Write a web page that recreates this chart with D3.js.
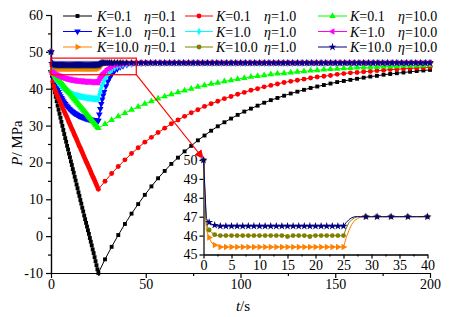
<!DOCTYPE html>
<html>
<head>
<meta charset="utf-8">
<script src="https://cdn.jsdelivr.net/npm/d3@7"></script>
<style>
  body { margin: 0; background: #fff; }
  svg { display: block; font-family: "Liberation Serif", "Times New Roman", serif; }
</style>
</head>
<body>
<svg width="450" height="317"></svg>
<script>

// time grids (s)
const tDown = d3.range(0, 25.001, 0.5);
const tUpSlow = d3.range(28.5, 200.001, 3.5);
const tUpFast = [25.5, 26, 26.5, 27, 27.5, 28, 29, 30, 31, 32, 33.5, 35, 36.5, 38, 40, 42.5, 45, 47.5, 50]
                  .concat(d3.range(52.5, 200.001, 2.5));

const xTicks = [0, 50, 100, 150, 200];
const yTicks = [-10, 0, 10, 20, 30, 40, 50, 60];
const insetXTicks = [0, 5, 10, 15, 20, 25, 30, 35, 40];
const insetYTicks = [45, 46, 47, 48, 49, 50];

// pressure (MPa) during drawdown, t = 0 .. 25
const blackDown = [50, 43.5, 41.5, 40.2, 39.0, 37.8, 36.6, 35.4, 34.3, 33.2, 32.1, 31.0, 29.9, 28.8, 27.7, 26.6,
  25.6, 24.5, 23.5, 22.4, 21.4, 20.3, 19.3, 18.2, 17.2, 16.1, 15.1, 14.0, 13.0, 11.9, 10.9, 9.8, 8.8, 7.7, 6.7,
  5.6, 4.6, 3.6, 2.6, 1.6, 0.6, -0.5, -1.5, -2.5, -3.6, -4.6, -5.7, -6.8, -7.9, -9.0, -10];
const redDown = [50, 44.0, 42.0, 40.7, 39.7, 39.1, 38.5, 37.9, 37.35, 36.8, 36.2, 35.6, 35.0, 34.4, 33.8, 33.2,
  32.7, 32.1, 31.5, 30.9, 30.3, 29.7, 29.1, 28.6, 28.0, 27.4, 26.8, 26.2, 25.6, 25.0, 24.4, 23.9, 23.3, 22.7,
  22.1, 21.5, 20.9, 20.3, 19.8, 19.2, 18.6, 18.0, 17.4, 16.8, 16.2, 15.7, 15.1, 14.5, 13.9, 13.3, 12.7];
const greenDown = [50, 45.2, 44.3, 44.0, 43.7, 43.4, 43.05, 42.7, 42.4, 42.1, 41.8, 41.5, 41.2, 40.9, 40.55,
  40.2, 39.9, 39.6, 39.3, 39.0, 38.7, 38.4, 38.05, 37.7, 37.4, 37.1, 36.8, 36.5, 36.2, 35.9, 35.55, 35.2, 34.9,
  34.6, 34.3, 34.0, 33.7, 33.4, 33.05, 32.7, 32.4, 32.1, 31.8, 31.5, 31.2, 30.9, 30.55, 30.2, 29.9, 29.6, 29.3];
const blueDown = [50, 44.4, 43.5, 42.6, 41.8, 41.0, 40.3, 39.7, 39.1, 38.5, 38.0, 37.5, 37.1, 36.6, 36.2, 35.9,
  35.5, 35.2, 34.9, 34.6, 34.4, 34.1, 33.9, 33.7, 33.5, 33.3, 33.2, 33.0, 32.9, 32.7, 32.6, 32.5, 32.4, 32.3,
  32.2, 32.1, 32.0, 31.9, 31.9, 31.8, 31.7, 31.7, 31.6, 31.6, 31.5, 31.5, 31.4, 31.4, 31.4, 31.3, 31.3];
const cyanDown = [50, 44.4, 43.9, 43.5, 43.0, 42.6, 42.2, 41.9, 41.5, 41.2, 40.9, 40.6, 40.4, 40.2, 39.9, 39.7,
  39.6, 39.4, 39.2, 39.1, 38.9, 38.8, 38.7, 38.5, 38.4, 38.3, 38.2, 38.2, 38.1, 38.0, 37.9, 37.9, 37.8, 37.8,
  37.7, 37.7, 37.6, 37.6, 37.5, 37.5, 37.5, 37.4, 37.4, 37.4, 37.3, 37.3, 37.3, 37.3, 37.3, 37.2, 37.2];
const magentaDown = [50, 44.5, 44.3, 44.1, 44.0, 43.8, 43.7, 43.5, 43.4, 43.3, 43.2, 43.1, 43.0, 42.9, 42.8,
  42.7, 42.7, 42.6, 42.5, 42.5, 42.4, 42.4, 42.3, 42.3, 42.2, 42.2, 42.2, 42.1, 42.1, 42.1, 42.1, 42.0, 42.0,
  42.0, 42.0, 41.9, 41.9, 41.9, 41.9, 41.9, 41.9, 41.9, 41.8, 41.8, 41.8, 41.8, 41.8, 41.8, 41.8, 41.8, 41.8];
const navyDown = [50, 46.9, 46.7, 46.6, 46.55,
  46.5, 46.5, 46.5, 46.5, 46.5, 46.5, 46.5, 46.5, 46.5, 46.5,
  46.5, 46.5, 46.5, 46.5, 46.5, 46.5, 46.5, 46.5, 46.5, 46.5,
  46.5, 46.5, 46.5, 46.5, 46.5, 46.5, 46.5, 46.5, 46.5, 46.5,
  46.5, 46.5, 46.5, 46.5, 46.5, 46.5, 46.5, 46.5, 46.5, 46.5,
  46.5, 46.5, 46.5, 46.5, 46.5, 46.5];
const oliveDown = [50, 46.6, 46.3, 46.15, 46.05,
  46.0, 46.0, 46.0, 46.0, 46.0, 46.0, 46.0, 46.0, 46.0, 46.0,
  46.0, 46.0, 46.0, 46.0, 46.0, 46.0, 46.0, 46.0, 46.0, 46.0,
  46.0, 46.0, 46.0, 46.0, 46.0, 45.95, 45.95, 46.0, 46.0, 46.0,
  46.0, 46.0, 46.0, 45.95, 46.0, 46.0, 46.0, 46.0, 46.0, 46.0,
  46.0, 46.0, 46.0, 46.0, 46.0, 46.0];
const orangeDown = [50, 46.3, 45.9, 45.6, 45.5, 45.45,
  45.4, 45.4, 45.4, 45.4, 45.4, 45.4, 45.4, 45.4, 45.4,
  45.4, 45.4, 45.4, 45.4, 45.4, 45.4, 45.4, 45.4, 45.4, 45.4,
  45.4, 45.4, 45.4, 45.4, 45.4, 45.4, 45.4, 45.4, 45.4, 45.4,
  45.4, 45.4, 45.4, 45.4, 45.4, 45.4, 45.4, 45.4, 45.4, 45.4,
  45.4, 45.4, 45.4, 45.4, 45.4, 45.4];

// pressure (MPa) during build-up, K = 0.1 on tUpSlow
const blackUp = [-6.3, -2.9, 0.3, 3.3, 6.1, 8.7, 11.2, 13.5, 15.7, 17.7, 19.6, 21.3, 23.0, 24.5, 26.0, 27.3,
  28.6, 29.8, 30.9, 31.9, 32.9, 33.8, 34.6, 35.4, 36.2, 36.9, 37.5, 38.1, 38.7, 39.2, 39.7, 40.2, 40.6, 41.0,
  41.4, 41.8, 42.1, 42.4, 42.7, 43.0, 43.3, 43.5, 43.8, 44.0, 44.2, 44.4, 44.6, 44.8, 44.95, 45.1];
const redUp = [14.9, 17.0, 18.9, 20.7, 22.4, 24.0, 25.5, 26.8, 28.1, 29.3, 30.5, 31.5, 32.5, 33.5, 34.3, 35.2,
  35.9, 36.6, 37.3, 37.9, 38.5, 39.0, 39.6, 40.0, 40.5, 40.9, 41.3, 41.7, 42.0, 42.3, 42.6, 42.9, 43.2, 43.4,
  43.6, 43.9, 44.1, 44.3, 44.4, 44.6, 44.7, 44.9, 45.0, 45.2, 45.3, 45.4, 45.5, 45.6, 45.7, 45.8];
const greenUp = [30.4, 31.5, 32.5, 33.4, 34.3, 35.1, 35.9, 36.6, 37.3, 37.9, 38.5, 39.0, 39.5, 40.0, 40.5, 40.9,
  41.3, 41.6, 42.0, 42.3, 42.6, 42.9, 43.2, 43.4, 43.6, 43.9, 44.1, 44.2, 44.4, 44.6, 44.7, 44.9, 45.0, 45.2,
  45.3, 45.4, 45.5, 45.6, 45.7, 45.8, 45.8, 45.9, 46.0, 46.0, 46.1, 46.2, 46.2, 46.3, 46.3, 46.4];

// build-up, K = 1.0 and 10.0 on tUpFast (the tail is the same plateau)
const plateau47 = [47, 47, 47, 47, 47, 47, 47, 47, 47, 47,
  47, 47, 47, 47, 47, 47, 47, 47, 47, 47,
  47, 47, 47, 47, 47, 47, 47, 47, 47, 47,
  47, 47, 47, 47, 47, 47, 47, 47, 47, 47,
  47, 47, 47, 47, 47, 47, 47, 47, 47, 47,
  47, 47, 47, 47, 47, 47, 47, 47, 47, 47];
const blueUp = [33.0, 34.5, 35.9, 37.1, 38.2, 39.1, 40.7, 42.0, 43.0, 43.9, 44.8, 45.4, 45.9, 46.2, 46.5,
  46.7, 46.85, 46.9, 46.95].concat(plateau47);
const cyanUp = [38.4, 39.3, 40.1, 40.9, 41.5, 42.1, 43.1, 43.9, 44.6, 45.1, 45.6, 46.0, 46.3, 46.5, 46.7,
  46.8, 46.9, 46.95, 47].concat(plateau47);
const magentaUp = [42.4, 42.9, 43.3, 43.7, 44.1, 44.4, 44.9, 45.4, 45.7, 46.0, 46.3, 46.5, 46.6, 46.7, 46.8,
  46.9, 46.95, 47, 47].concat(plateau47);
const navyUp = [46.7, 46.85, 46.95, 47, 47, 47, 47, 47, 47, 47, 47, 47, 47, 47, 47,
  47, 47, 47, 47].concat(plateau47);
const oliveUp = [46.4, 46.7, 46.85, 46.95, 47, 47, 47, 47, 47, 47, 47, 47, 47, 47, 47,
  47, 47, 47, 47].concat(plateau47);
const orangeUp = [45.9, 46.3, 46.6, 46.8, 46.9, 46.97, 47, 47, 47, 47, 47, 47, 47, 47, 47,
  47, 47, 47, 47].concat(plateau47);

// zoom window marked on the main plot
const zoomT = [0, 45];
const zoomP = [43.8, 48.3];

// legend order follows the plot order (column by column)
const series = [
  { K: '0.1',  eta: '0.1',  color: '#000000', sym: 'square',  down: blackDown,   tUp: tUpSlow, up: blackUp,   col: 0, row: 0 },
  { K: '1.0',  eta: '0.1',  color: '#0000ff', sym: 'down',    down: blueDown,    tUp: tUpFast, up: blueUp,    col: 0, row: 1 },
  { K: '10.0', eta: '0.1',  color: '#ff8000', sym: 'right',   down: orangeDown,  tUp: tUpFast, up: orangeUp,  col: 0, row: 2, inset: true },
  { K: '0.1',  eta: '1.0',  color: '#ff0000', sym: 'circle',  down: redDown,     tUp: tUpSlow, up: redUp,     col: 1, row: 0 },
  { K: '1.0',  eta: '1.0',  color: '#00ffff', sym: 'diamond', down: cyanDown,    tUp: tUpFast, up: cyanUp,    col: 1, row: 1 },
  { K: '10.0', eta: '1.0',  color: '#808000', sym: 'circle',  down: oliveDown,   tUp: tUpFast, up: oliveUp,   col: 1, row: 2, inset: true },
  { K: '0.1',  eta: '10.0', color: '#00ff00', sym: 'up',      down: greenDown,   tUp: tUpSlow, up: greenUp,   col: 2, row: 0 },
  { K: '1.0',  eta: '10.0', color: '#ff00ff', sym: 'left',    down: magentaDown, tUp: tUpFast, up: magentaUp, col: 2, row: 1 },
  { K: '10.0', eta: '10.0', color: '#000080', sym: 'star',    down: navyDown,    tUp: tUpFast, up: navyUp,    col: 2, row: 2, inset: true }
];

const symbols = {
  square:  { type: d3.symbolSquare,   size: 15, rot: 0 },
  circle:  { type: d3.symbolCircle,   size: 19, rot: 0 },
  diamond: { type: d3.symbolDiamond,  size: 16, rot: 0 },
  up:      { type: d3.symbolTriangle, size: 19, rot: 0 },
  down:    { type: d3.symbolTriangle, size: 19, rot: 180 },
  right:   { type: d3.symbolTriangle, size: 19, rot: 90 },
  left:    { type: d3.symbolTriangle, size: 19, rot: -90 },
  star:    { type: d3.symbolStar,     size: 20, rot: 0 }
};

function points(s) {
  let a = tDown.map(function(t, i) { return { t: t, p: s.down[i], i: i, up: false }; });
  let b = s.tUp.map(function(t, j) { return { t: t, p: s.up[j], i: j, up: true }; });
  return a.concat(b);
}

function drawMarks(g, data, s, sx, sy) {
  let sym = symbols[s.sym];
  g.selectAll('path.mark')
    .data(data)
    .enter()
    .append('path')
    .attr('class', 'mark')
    .attr('d', d3.symbol().type(sym.type).size(sym.size))
    .attr('transform', function(d) {
      return 'translate(' + sx(d.t) + ',' + sy(d.p) + ') rotate(' + sym.rot + ')';
    })
    .attr('fill', s.color);
}

const svg = d3.select('svg');

let x = d3.scaleLinear().domain([0, 200]).range([51, 430]);
let y = d3.scaleLinear().domain([-10, 60]).range([273, 15]);

let ix = d3.scaleLinear().domain([0, 40]).range([203.5, 427.5]);
let iy = d3.scaleLinear().domain([45, 50]).range([254.5, 160]);

function styleAxis(g) {
  g.attr('font-family', null).attr('font-size', 14);
  g.selectAll('text').attr('fill', '#000');
  g.selectAll('path, line').attr('stroke', '#000').attr('stroke-width', 1.2);
}

// main axes
svg.append('g')
  .attr('transform', 'translate(0,273)')
  .call(d3.axisBottom(x).tickValues([25, 75, 125, 175]).tickSize(3).tickSizeOuter(0).tickFormat(''))
  .call(styleAxis);
svg.append('g')
  .attr('transform', 'translate(0,273)')
  .call(d3.axisBottom(x).tickValues(xTicks).tickSize(5).tickSizeOuter(0).tickPadding(1)
          .tickFormat(function(d) { return String(d); }))
  .call(styleAxis);
svg.append('g')
  .attr('transform', 'translate(51,0)')
  .call(d3.axisLeft(y).tickValues([-5, 5, 15, 25, 35, 45, 55]).tickSize(3).tickSizeOuter(0).tickFormat(''))
  .call(styleAxis);
svg.append('g')
  .attr('transform', 'translate(51,0)')
  .call(d3.axisLeft(y).tickValues(yTicks).tickSize(5).tickSizeOuter(0).tickPadding(3)
          .tickFormat(function(d) { return String(d); }))
  .call(styleAxis);

// main curves
let line = d3.line()
  .x(function(d) { return x(d.t); })
  .y(function(d) { return y(d.p); });

series.forEach(function(s) {
  let data = points(s);
  let g = svg.append('g');
  g.append('path')
    .attr('d', line(data))
    .attr('fill', 'none')
    .attr('stroke', s.color)
    .attr('stroke-width', 1);
  drawMarks(g, data, s, x, y);
});

// zoom box and arrow
svg.append('rect')
  .attr('x', x(zoomT[0]))
  .attr('y', y(zoomP[1]))
  .attr('width', x(zoomT[1]) - x(zoomT[0]))
  .attr('height', y(zoomP[0]) - y(zoomP[1]))
  .attr('fill', 'none')
  .attr('stroke', '#ff0000')
  .attr('stroke-width', 1.2);

svg.append('defs').append('marker')
  .attr('id', 'arrow')
  .attr('viewBox', '0 0 10 10')
  .attr('refX', 10)
  .attr('refY', 5)
  .attr('markerWidth', 9)
  .attr('markerHeight', 9)
  .attr('markerUnits', 'userSpaceOnUse')
  .attr('orient', 'auto')
  .append('path')
  .attr('d', 'M0,0L10,5L0,10Z')
  .attr('fill', '#ff0000');

svg.append('line')
  .attr('x1', x(zoomT[1]))
  .attr('y1', y(zoomP[0]))
  .attr('x2', ix(0))
  .attr('y2', iy(50) - 1)
  .attr('stroke', '#ff0000')
  .attr('stroke-width', 1.2)
  .attr('marker-end', 'url(#arrow)');

// inset
svg.append('g')
  .attr('transform', 'translate(0,254.5)')
  .call(d3.axisBottom(ix).tickValues([2.5, 7.5, 12.5, 17.5, 22.5, 27.5, 32.5, 37.5]).tickSize(2)
          .tickSizeOuter(0).tickFormat(''))
  .call(styleAxis);
svg.append('g')
  .attr('transform', 'translate(0,254.5)')
  .call(d3.axisBottom(ix).tickValues(insetXTicks).tickSize(4).tickSizeOuter(0).tickPadding(2)
          .tickFormat(function(d) { return String(d); }))
  .call(styleAxis);
svg.append('g')
  .attr('transform', 'translate(203.5,0)')
  .call(d3.axisLeft(iy).tickValues(insetYTicks).tickSize(4).tickSizeOuter(0).tickPadding(2)
          .tickFormat(function(d) { return String(d); }))
  .call(styleAxis);

let insetLine = d3.line()
  .x(function(d) { return ix(d.t); })
  .y(function(d) { return iy(d.p); });

series.filter(function(s) { return s.inset; }).forEach(function(s) {
  let data = points(s).filter(function(d) { return d.t <= 40; });
  let g = svg.append('g');
  g.append('path')
    .attr('d', insetLine(data))
    .attr('fill', 'none')
    .attr('stroke', s.color)
    .attr('stroke-width', 1);
  let marked = data.filter(function(d) {
    return d.i % 2 === 0 && (!d.up || d.t >= 28);
  });
  drawMarks(g, marked, s, ix, iy);
});

// axis titles
let yTitle = svg.append('text')
  .attr('transform', 'translate(22,143) rotate(-90)')
  .attr('text-anchor', 'middle')
  .attr('font-size', 15);
yTitle.append('tspan').attr('font-style', 'italic').text('P');
yTitle.append('tspan').text('/ MPa');

let xTitle = svg.append('text')
  .attr('x', 243)
  .attr('y', 311)
  .attr('text-anchor', 'middle')
  .attr('font-size', 15);
xTitle.append('tspan').attr('font-style', 'italic').text('t');
xTitle.append('tspan').text('/s');

// legend
const legendCols = [
  { x1: 63, x2: 92, k: 97, eta: 144 },
  { x1: 185, x2: 213, k: 216, eta: 264 },
  { x1: 318, x2: 347, k: 350, eta: 398 }
];
const legendRows = [16, 31.5, 47];

series.forEach(function(s) {
  let c = legendCols[s.col];
  let cy = legendRows[s.row];
  let g = svg.append('g');
  g.append('line')
    .attr('x1', c.x1).attr('x2', c.x2)
    .attr('y1', cy).attr('y2', cy)
    .attr('stroke', s.color)
    .attr('stroke-width', 1);
  drawMarks(g, [{ t: (c.x1 + c.x2) / 2, p: cy }], s, function(v) { return v; }, function(v) { return v; });
  let tk = g.append('text').attr('x', c.k).attr('y', cy + 5).attr('font-size', 14);
  tk.append('tspan').attr('font-style', 'italic').text('K');
  tk.append('tspan').text('=' + s.K);
  let te = g.append('text').attr('x', c.eta).attr('y', cy + 5).attr('font-size', 14);
  te.append('tspan').attr('font-style', 'italic').text('\u03b7');
  te.append('tspan').text('=' + s.eta);
});

</script>
</body>
</html>
